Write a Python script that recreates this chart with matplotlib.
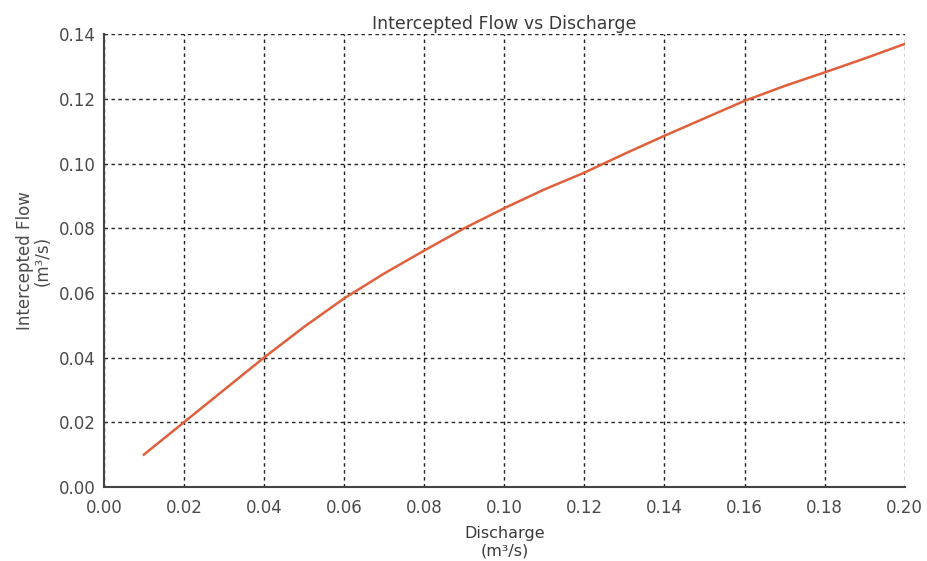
import matplotlib
matplotlib.use('Agg')
import numpy as np
import matplotlib.pyplot as plt

plt.rcParams['font.family'] = ['DejaVu Sans']

# discharge (m3/s) and intercepted flow (m3/s)
discharge = [0.01, 0.02, 0.03, 0.04, 0.05, 0.06, 0.07, 0.08, 0.09, 0.10,
             0.11, 0.12, 0.13, 0.14, 0.15, 0.16, 0.17, 0.18, 0.19, 0.20]
intercepted = [0.0100, 0.0200, 0.0300, 0.0400, 0.0495, 0.0583, 0.0660, 0.0731,
               0.0800, 0.0862, 0.0920, 0.0972, 0.1030, 0.1086, 0.1140, 0.1194,
               0.1240, 0.1282, 0.1325, 0.1370]
x_ticks = np.arange(0, 0.201, 0.02)
y_ticks = np.arange(0, 0.141, 0.02)

fig = plt.figure(figsize=(9.27, 5.61), dpi=100)
ax = fig.add_axes([0.112, 0.132, 0.864, 0.807])

ax.plot(discharge, intercepted, color='#e0603c', linewidth=1.8, zorder=3)

ax.set_xlim(0, 0.2)
ax.set_ylim(0, 0.14)
ax.set_xticks(x_ticks)
ax.set_yticks(y_ticks)
ax.set_xticklabels(['%.2f' % v for v in x_ticks])
ax.set_yticklabels(['%.2f' % v for v in y_ticks])
ax.tick_params(labelsize=12, colors='#4a4a4a', length=0)
ax.tick_params(axis='x', pad=9)
ax.tick_params(axis='y', pad=6)

ax.grid(True, color='#222222', linestyle=(0, (2.5, 2.5)), linewidth=1.0)
for s in ['top', 'right']:
    ax.spines[s].set_visible(False)
for s in ['left', 'bottom']:
    ax.spines[s].set_color('#444444')
    ax.spines[s].set_linewidth(1.5)

ax.set_title('Intercepted Flow vs Discharge', fontsize=12.5, color='#3a3a3a', pad=4)
ax.set_xlabel('Discharge\n(m\u00b3/s)', fontsize=11.5, color='#3a3a3a', labelpad=6, linespacing=1.2)
ax.set_ylabel('Intercepted Flow\n(m\u00b3/s)', fontsize=12, color='#4a4a4a', labelpad=5, linespacing=0.95)

plt.savefig('out.png', dpi=100)
